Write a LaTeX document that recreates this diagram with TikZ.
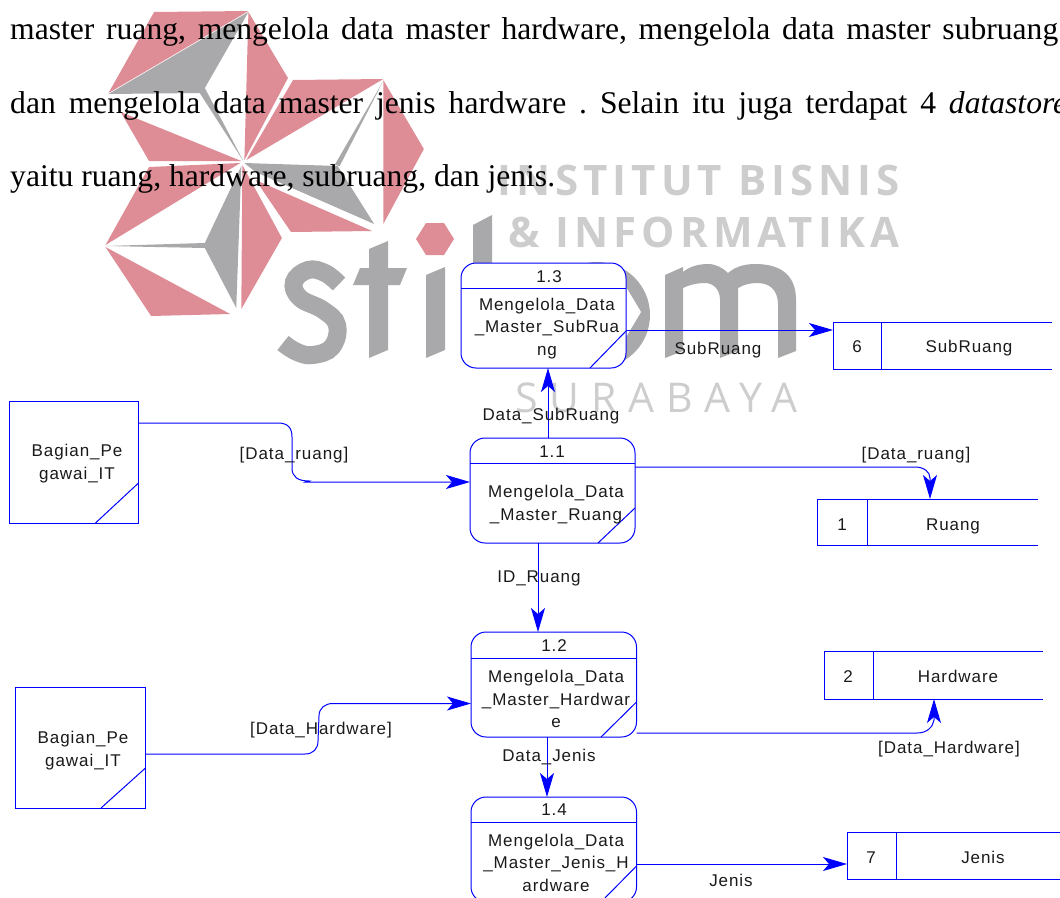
\documentclass[tikz,border=0pt]{standalone}
\usepackage{fontspec}
\setmainfont{Liberation Serif}
\newfontfamily\dfd[LetterSpace=5.5]{Liberation Sans}
\newfontfamily\wmb[LetterSpace=12]{Open Sans}
\newfontfamily\wmr[LetterSpace=29]{Open Sans}
\usetikzlibrary{arrows.meta}
\definecolor{logopink}{HTML}{DE8C96}
\definecolor{logogray}{HTML}{A9A9AB}
\definecolor{wmgray}{HTML}{CDCDCD}
\definecolor{flowblue}{HTML}{0000FF}
\definecolor{ink}{HTML}{1A1A1A}
\tikzset{
  flow/.style={draw=flowblue,line width=1pt},
  arrowflow/.style={flow,-{Stealth[length=24pt,width=14pt,inset=6pt,flowblue]}},
  proc/.style={flow,fill=white,rounded corners=15pt,inner sep=0pt,outer sep=0pt},
  ext/.style={flow,fill=white,inner sep=0pt,outer sep=0pt},
  cell/.style={flow,inner sep=0pt,outer sep=0pt,minimum width=49pt,minimum height=47pt},
  dfdt/.style={inner sep=0pt,text=ink,font=\dfd\fontsize{17pt}{22.5pt}\selectfont,align=center},
  dfdl/.style={inner sep=0pt,text=ink,font=\dfd\fontsize{17pt}{22.5pt}\selectfont,text height=14.5pt,text depth=2.5pt},
  bodyt/.style={inner sep=0pt,anchor=base west,font=\fontsize{31.6pt}{36pt}\selectfont},
  pinkp/.style={fill=logopink},
  grayp/.style={fill=logogray},
}
\begin{document}
\begin{tikzpicture}[x=1pt,y=-1pt]
\useasboundingbox (0,0) rectangle (1060,897);
\clip (0,0) rectangle (1060,897);
% logo emblem
\begin{scope}[x=1.014pt]
\fill[pinkp] (152,12) -- (245,11) -- (107,93) -- cycle;
\fill[grayp] (107,94) -- (245,12) -- (202,88) -- (240,161) -- (197,93) -- cycle;
\fill[pinkp] (245,12) -- (284,78) -- (241,160) -- cycle;
\fill[pinkp] (119,112) -- (238,161) -- (147,161) -- cycle;
\fill[pinkp] (289,80) -- (378,79) -- (243,160) -- cycle;
\fill[grayp] (378,81) -- (330,165) -- (335,166) -- cycle;
\fill[grayp] (241,163) -- (333,166) -- (369,224) -- (252,172) -- cycle;
\fill[pinkp] (378,80) -- (418,149) -- (378,224) -- cycle;
\fill[pinkp] (252,180) -- (367,231) -- (287,232) -- cycle;
\fill[pinkp] (147,167) -- (237,163) -- (104,245) -- cycle;
\fill[grayp] (238,166) -- (233,308) -- (202,248) -- (104,246) -- (202,243) -- cycle;
\fill[pinkp] (239,165) -- (278,238) -- (238,309) -- cycle;
\fill[pinkp] (104,247) -- (227,314) -- (149,316) -- cycle;
\end{scope}
% logo word
\draw[logogray,line width=18pt] plot[smooth,tension=0.7] coordinates {(339,284) (325,273) (308,270) (294,282) (300,298) (323,310) (337,325) (332,347) (313,355) (297,352) (283,343)};
\fill[grayp] (369,249) -- (388,241) -- (388,268) -- (407,268) -- (400,285) -- (388,285) -- (388,350) -- (369,358) -- (369,285) -- (353,285) -- (360,268) -- (369,268) -- cycle;
\fill[grayp] (426,275) -- (445,267) -- (445,350) -- (426,358) -- cycle;
\fill[pinkp] (416,239) -- (426,223) -- (444,223) -- (454,239) -- (444,255) -- (426,255) -- cycle;
\fill[grayp] (473,225) -- (492,215) -- (492,270) -- (473,270) -- cycle;
\fill[grayp] (597,315) circle[radius=53];
\fill[white] (600,280) -- (626,287) -- (641,312) -- (626,337) -- (600,345) -- cycle;
\fill[grayp] (665,358) -- (665,275) -- (683,267) -- (683,272) .. controls (690,266) and (700,264) .. (708,264) .. controls (716,264) and (723,268) .. (728,273) .. controls (736,266) and (746,264) .. (755,264) .. controls (782,264) and (796,276) .. (796,300) -- (796,351) -- (778,358) -- (778,305) .. controls (778,290) and (770,283) .. (757,283) .. controls (750,283) and (743,285) .. (738,288) -- (738,351) -- (720,358) -- (720,300) .. controls (720,288) and (712,283) .. (705,283) .. controls (697,283) and (689,285) .. (683,288) -- (683,351) -- cycle;
% watermark
\node[inner sep=0pt,anchor=base west,text=wmgray,font=\wmb\bfseries\fontsize{42pt}{44pt}\selectfont] (wm1) at (497,195) {INSTITUT BISNIS};
\node[inner sep=0pt,anchor=base west,text=wmgray,font=\wmb\bfseries\fontsize{42pt}{44pt}\selectfont] (wm2) at (508,247) {\& INFORMATIKA};
\node[inner sep=0pt,anchor=base west,text=wmgray,font=\wmr\fontsize{41pt}{44pt}\selectfont] (wm3) at (515,412) {SURABAYA};
% body text
\node[bodyt] (l1) at (10,39) {\hbox to 1048pt{\frenchspacing\spaceskip=0pt plus 1fil master ruang, mengelola data master hardware, mengelola data master subruang}};
\node[bodyt] (l2) at (10,113) {\hbox to 1057pt{\frenchspacing\spaceskip=0pt plus 1fil dan mengelola data master jenis hardware . Selain itu juga terdapat 4 \textit{datastore}}};
\node[bodyt] (l3) at (10,186) {yaitu ruang, hardware, subruang, dan jenis.};
% processes
\node[proc,minimum width=165pt,minimum height=105pt] (p13) at (543.5,315.5) {};
\node[proc,minimum width=165pt,minimum height=105pt] (p11) at (552.5,490.5) {};
\node[proc,minimum width=165.5pt,minimum height=105pt] (p12) at (553.75,684.5) {};
\node[proc,minimum width=165.5pt,minimum height=105pt] (p14) at (553.75,849.5) {};
\draw[flow] (p13.west |- 0,288) -- (p13.east |- 0,288);
\draw[flow] (p13.east |- 0,331) -- (p13.south -| 590,0);
\draw[flow] (p11.west |- 0,463) -- (p11.east |- 0,463);
\draw[flow] (p11.east |- 0,508) -- (p11.south -| 598,0);
\draw[flow] (p12.west |- 0,658) -- (p12.east |- 0,658);
\draw[flow] (p12.east |- 0,702) -- (p12.south -| 601,0);
\draw[flow] (p14.west |- 0,822) -- (p14.east |- 0,822);
\draw[flow] (p14.east |- 0,866) -- (p14.south -| 601,0);
\node[dfdl] (n13) at (549,276) {1.3};
\node[dfdt] (t13) at (547,328.5) {Mengelola\_Data\\\_Master\_SubRua\\ng};
\node[dfdl] (n11) at (552,451) {1.1};
\node[dfdt] (t11) at (556,504.5) {Mengelola\_Data\\\_Master\_Ruang};
\node[dfdl] (n12) at (554,645) {1.2};
\node[dfdt] (t12) at (556,699) {Mengelola\_Data\\\_Master\_Hardwar\\e};
\node[dfdl] (n14) at (554,809) {1.4};
\node[dfdt] (t14) at (556,862.5) {Mengelola\_Data\\\_Master\_Jenis\_H\\ardware};
% external entities
\node[ext,minimum width=129pt,minimum height=122pt] (e1) at (74,462) {};
\draw[flow] (e1.east |- 0,483) -- (e1.south -| 95.5,0);
\node[dfdt] (te1) at (77,463.5) {Bagian\_Pe\\gawai\_IT};
\node[ext,minimum width=130.5pt,minimum height=121pt] (e2) at (80.25,747.5) {};
\draw[flow] (e2.east |- 0,768) -- (e2.south -| 101,0);
\node[dfdt] (te2) at (83,750.5) {Bagian\_Pe\\gawai\_IT};
% data stores
\node[cell,minimum width=48pt,minimum height=47pt] (s6) at (857,345.5) {};
\draw[flow] (s6.north east) -- (s6.north west -| 1052,0);
\draw[flow] (s6.south east) -- (s6.south west -| 1052,0);
\node[dfdl] (s6t) at (969,346) {SubRuang};
\node[dfdl] (s6n) at (857,346) {6};
\node[cell,minimum width=50pt,minimum height=46pt] (s1) at (842,522) {};
\draw[flow] (s1.north east) -- (s1.north west -| 1038,0);
\draw[flow] (s1.south east) -- (s1.south west -| 1038,0);
\node[dfdl] (s1t) at (953,524) {Ruang};
\node[dfdl] (s1n) at (842,524) {1};
\node[cell,minimum width=49pt,minimum height=48pt] (s2) at (848.5,675) {};
\draw[flow] (s2.north east) -- (s2.north west -| 1043,0);
\draw[flow] (s2.south east) -- (s2.south west -| 1043,0);
\node[dfdl] (s2t) at (958,676) {Hardware};
\node[dfdl] (s2n) at (848,676) {2};
\node[cell,minimum width=49pt,minimum height=47pt] (s7) at (871.5,855.5) {};
\draw[flow] (s7.north east) -- (s7.north west -| 1070,0);
\draw[flow] (s7.south east) -- (s7.south west -| 1070,0);
\node[dfdl] (s7t) at (983,857) {Jenis};
\node[dfdl] (s7n) at (871,857) {7};
% connectors
\draw[arrowflow] (p13.east |- 0,330) -- (s6.west |- 0,330);
\draw[arrowflow] (p11.north -| 548,0) -- (p13.south -| 548,0);
\draw[arrowflow] (p11.south -| 538,0) -- (p12.north -| 538,0);
\draw[arrowflow] (p12.south -| 547,0) -- (p14.north -| 547,0);
\draw[arrowflow] (p14.east |- 0,864) -- (s7.west |- 0,864);
\draw[arrowflow] (e1.east |- 0,423) -- (278,423) .. controls (288,423) and (292,428) .. (292,437) -- (292,468) .. controls (292,477) and (298,481) .. (309,481) -- (306,482) -- (p11.west |- 0,482);
\draw[arrowflow] (e2.east |- 0,754) -- (305,754) .. controls (313,754) and (318,749) .. (318,741) -- (319,716) .. controls (319,708) and (325,703.5) .. (333,703.5) -- (p12.west |- 0,703.5);
\draw[arrowflow] (p11.east |- 0,467) -- (915,467) .. controls (924,467) and (930,472) .. (930,478) -- (s1.north -| 930,0);
\draw[arrowflow] (p12.east |- 0,733) -- (917,733) .. controls (927,733) and (933,727) .. (934,720) -- (s2.south -| 934,0);
% flow labels
\node[dfdl] (f1) at (718,348) {SubRuang};
\node[dfdl] (f2) at (551,414) {Data\_SubRuang};
\node[dfdl] (f3) at (294,453) {[Data\_ruang]};
\node[dfdl] (f4) at (916,453) {[Data\_ruang]};
\node[dfdl] (f5) at (539,576) {ID\_Ruang};
\node[dfdl] (f6) at (321,728) {[Data\_Hardware]};
\node[dfdl] (f7) at (549,755) {Data\_Jenis};
\node[dfdl] (f8) at (949,747) {[Data\_Hardware]};
\node[dfdl] (f9) at (731,880) {Jenis};
\end{tikzpicture}
\end{document}
